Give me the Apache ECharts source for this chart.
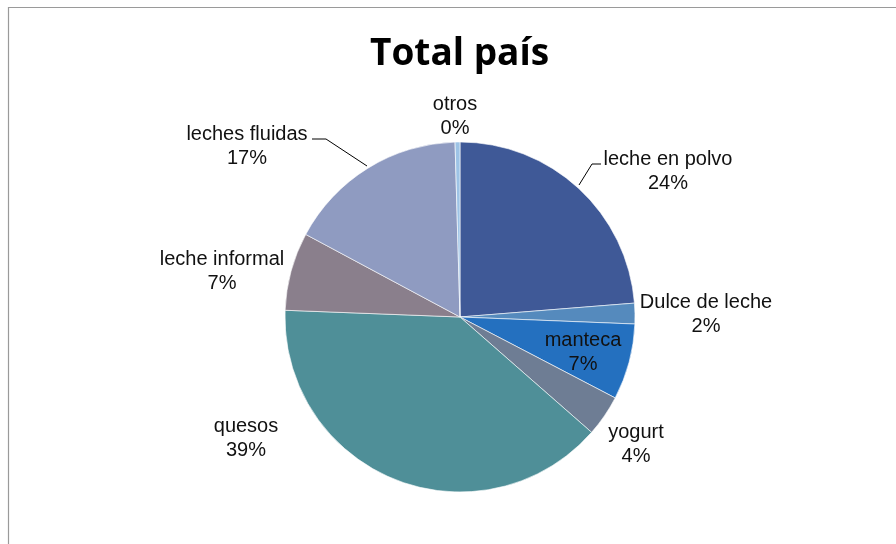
<!DOCTYPE html>
<html>
<head>
<meta charset="utf-8">
<script src="https://cdn.jsdelivr.net/npm/echarts@6/dist/echarts.min.js"></script>
<style>
html,body{margin:0;padding:0;background:#fff;}
#chart{width:896px;height:544px;}
</style>
</head>
<body>
<div id="chart"></div>
<script>
const titleText = 'Total país';
const categories = ['leche en polvo', 'Dulce de leche', 'manteca', 'yogurt', 'quesos', 'leche informal', 'leches fluidas', 'otros'];
const values = [23.7, 1.9, 7.0, 3.8, 39.1, 7.2, 16.7, 0.45];
const colors = ['#3F5997', '#558ABD', '#2470BF', '#6E7D94', '#4F8F98', '#8A7F8C', '#8F9BC1', '#9DC3E6'];

// label placement (layout, not data)
const labelPos = [
  [668, 171], [706, 314], [583, 352], [636, 444],
  [246, 438], [222, 271], [247, 146], [455, 116]
];
const leaderLines = {
  0: [[579, 185], [592, 164], [601, 164]],
  6: [[367, 166], [326, 139], [312, 139]]
};

const chart = echarts.init(document.getElementById('chart'), null, {renderer: 'canvas'});

const data = categories.map((name, i) => ({
  name: name,
  value: values[i],
  itemStyle: {color: colors[i]},
  labelLine: {show: !!leaderLines[i]}
}));

chart.setOption({
  animation: false,
  backgroundColor: '#ffffff',
  graphic: [{
    type: 'rect',
    silent: true,
    shape: {x: 8.5, y: 7.5, width: 1000, height: 1000},
    style: {fill: 'none', stroke: '#9a9a9a', lineWidth: 1.2}
  }],
  title: {
    text: titleText,
    left: 370,
    top: 36,
    padding: 0,
    textStyle: {
      fontFamily: '"Open Sans"',
      fontWeight: 'bold',
      fontSize: 37,
      color: '#000'
    }
  },
  series: [{
    type: 'pie',
    center: [460, 317],
    radius: [0, 175],
    startAngle: 90,
    clockwise: true,
    avoidLabelOverlap: false,
    itemStyle: {borderColor: '#ffffff', borderWidth: 0.6},
    emphasis: {disabled: true},
    label: {
      show: true,
      position: 'outside',
      fontFamily: '"Liberation Sans", Arial, sans-serif',
      fontSize: 20,
      lineHeight: 24,
      color: '#111',
      align: 'center',
      formatter: function (p) { return p.name + '\n' + Math.round(p.percent) + '%'; }
    },
    labelLine: {
      show: true,
      lineStyle: {color: '#000', width: 1}
    },
    labelLayout: function (params) {
      const i = params.dataIndex;
      const o = {
        x: labelPos[i][0],
        y: labelPos[i][1],
        align: 'center',
        verticalAlign: 'middle'
      };
      if (leaderLines[i]) o.labelLinePoints = leaderLines[i];
      return o;
    },
    data: data
  }]
});
</script>
</body>
</html>
